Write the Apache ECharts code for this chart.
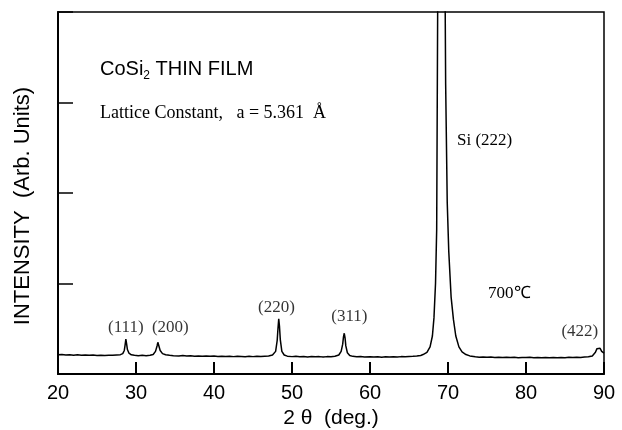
<!DOCTYPE html>
<html>
<head>
<meta charset="utf-8">
<script src="https://cdn.jsdelivr.net/npm/echarts@6/dist/echarts.min.js"></script>
<style>
  html, body { margin: 0; padding: 0; background: #fff; }
  #main { width: 622px; height: 430px; }
</style>
</head>
<body>
<div id="main"></div>
<script>
// XRD scan
var twoTheta = [
  20, 20.5, 21, 21.5, 22, 22.5, 23, 23.5, 24, 24.5, 25, 25.5, 26, 26.5, 27, 27.5, 28, 28.3, 28.5, 28.6, 28.7, 28.8, 28.9, 29.1, 29.4,
  29.8, 30.3, 30.8, 31.3, 31.8, 32.2, 32.5, 32.7, 32.8, 32.9, 33.1, 33.4, 33.8, 34.3, 34.8, 35.5, 36, 36.5, 37, 37.5, 38, 38.5,
  39, 39.5, 40, 40.5, 41, 41.5, 42, 42.5, 43, 43.5, 44, 44.5, 45, 45.5, 46, 46.5, 47, 47.5, 47.9, 48.1, 48.2, 48.3, 48.4, 48.5,
  48.7, 49, 49.4, 50, 50.5, 51, 51.5, 52, 52.5, 53, 53.5, 54, 54.5, 55, 55.5, 56, 56.3, 56.5, 56.6, 56.7, 56.8, 56.9, 57.1, 57.4,
  57.8, 58.3, 58.8, 59.3, 60, 60.5, 61, 61.5, 62, 62.5, 63, 63.5, 64, 64.5, 65, 65.5, 66, 66.5, 66.8, 67.3, 67.7, 68, 68.2, 68.4,
  68.55, 68.7, 68.9, 69.1, 69.3, 69.5, 69.7, 69.9, 70.1, 70.4, 70.7, 71, 71.4, 71.8, 72.3, 72.8, 73.5, 74, 74.5, 75, 75.5, 76,
  76.5, 77, 77.5, 78, 78.5, 79, 79.5, 80, 80.5, 81, 81.5, 82, 82.5, 83, 83.5, 84, 84.5, 85, 85.5, 86, 86.5, 87, 87.5, 88, 88.5,
  88.9, 89.1, 89.3, 89.5, 89.7, 90
];
var intensity = [
  0.212, 0.216, 0.209, 0.214, 0.208, 0.212, 0.206, 0.211, 0.207, 0.209, 0.204, 0.208, 0.205, 0.207, 0.206, 0.21, 0.214, 0.225, 0.26, 0.32, 0.385, 0.33, 0.27, 0.23, 0.212,
  0.207, 0.203, 0.206, 0.202, 0.207, 0.215, 0.25, 0.31, 0.35, 0.32, 0.26, 0.225, 0.212, 0.206, 0.203, 0.2, 0.204, 0.199, 0.202, 0.197, 0.2, 0.196,
  0.199, 0.195, 0.198, 0.194, 0.197, 0.193, 0.196, 0.192, 0.195, 0.194, 0.191, 0.195, 0.192, 0.196, 0.193, 0.197, 0.2, 0.21, 0.25, 0.37, 0.5, 0.61, 0.52, 0.38,
  0.25, 0.21, 0.197, 0.192, 0.195, 0.19, 0.194, 0.189, 0.193, 0.19, 0.192, 0.188, 0.192, 0.19, 0.196, 0.21, 0.25, 0.33, 0.41, 0.45, 0.4, 0.31, 0.235, 0.205,
  0.195, 0.19, 0.193, 0.188, 0.191, 0.187, 0.19, 0.186, 0.19, 0.188, 0.191, 0.189, 0.192, 0.19, 0.193, 0.195, 0.198, 0.205, 0.215, 0.24, 0.3, 0.42, 0.62, 1.0,
  1.6, 4.5, 20, 40, 20, 6, 3.2, 1.9, 1.35, 0.85, 0.6, 0.42, 0.3, 0.245, 0.215, 0.2, 0.19, 0.186, 0.189, 0.184, 0.187, 0.183,
  0.186, 0.182, 0.185, 0.181, 0.184, 0.18, 0.183, 0.181, 0.184, 0.18, 0.183, 0.179, 0.182, 0.18, 0.183, 0.179, 0.182, 0.18, 0.184, 0.181, 0.185, 0.183, 0.187, 0.19, 0.2,
  0.24, 0.28, 0.3, 0.285, 0.25, 0.23
];
var xTicks = [20, 30, 40, 50, 60, 70, 80, 90];

// peak labels: text, and where its centre sits in data units
var peakNames = ['(111)', '(200)', '(220)', '(311)', '(422)'];
var peakPos = [[28.7, 0.51], [34.4, 0.51], [48.0, 0.73], [57.35, 0.63], [86.9, 0.465]];

var data = twoTheta.map(function (t, i) { return [t, intensity[i]]; });
var labelData = peakNames.map(function (n, i) { return { name: n, value: peakPos[i] }; });

var myChart = echarts.init(document.getElementById('main'));
var option = {
  backgroundColor: '#fff',
  animation: false,
  grid: {
    left: 58, right: 18, top: 12, bottom: 56,
    outerBoundsMode: 'none',
    show: true, borderColor: '#000', borderWidth: 1.5
  },
  xAxis: {
    type: 'value', min: 20, max: 90, interval: 10,
    name: '2 θ  (deg.)', nameLocation: 'middle', nameGap: 29,
    nameTextStyle: { fontFamily: 'Liberation Sans', fontSize: 21, color: '#000' },
    axisLine: { lineStyle: { color: '#000', width: 2 } },
    axisTick: { inside: true, length: 12, lineStyle: { color: '#000', width: 2 } },
    axisLabel: {
      fontFamily: 'Liberation Sans', fontSize: 20, color: '#000', margin: 9,
      formatter: function (v) { return xTicks.indexOf(v) >= 0 ? String(v) : ''; }
    },
    splitLine: { show: false }
  },
  yAxis: {
    type: 'value', min: 0, max: 4, interval: 1,
    axisLine: { show: true, lineStyle: { color: '#000', width: 2 } },
    axisTick: { inside: true, length: 15, lineStyle: { color: '#000', width: 1.5 } },
    axisLabel: { show: false },
    splitLine: { show: false }
  },
  graphic: [
    {
      type: 'text', x: 23, y: 206, rotation: Math.PI / 2,
      style: {
        text: 'INTENSITY  (Arb. Units)', align: 'center', verticalAlign: 'middle',
        fontFamily: 'Liberation Sans', fontSize: 22, fill: '#000'
      }
    },
    {
      type: 'text', left: 100, top: 59,
      style: {
        text: '{a|CoSi}{s|2}{a| THIN FILM}',
        rich: {
          a: { fontFamily: 'Liberation Sans', fontSize: 20, fill: '#000' },
          s: { fontFamily: 'Liberation Sans', fontSize: 12, fill: '#000', padding: [14, 0, 0, 0] }
        }
      }
    },
    {
      type: 'text', left: 100, top: 104,
      style: { text: 'Lattice Constant,   a = 5.361  Å', fontFamily: 'Liberation Serif', fontSize: 18, fill: '#000' }
    },
    {
      type: 'text', left: 457, top: 132,
      style: { text: 'Si (222)', fontFamily: 'Liberation Serif', fontSize: 17, fill: '#000' }
    },
    {
      type: 'text', left: 488, top: 285,
      style: { text: '700℃', fontFamily: 'Liberation Serif', fontSize: 17, fill: '#000' }
    }
  ],
  series: [
    {
      type: 'line', data: data, showSymbol: false, clip: true,
      lineStyle: { color: '#000', width: 1.5 }
    },
    {
      type: 'scatter', data: labelData, symbolSize: 0, silent: true,
      label: {
        show: true, position: 'inside', formatter: '{b}',
        fontFamily: 'Liberation Serif', fontSize: 17, color: '#000'
      }
    }
  ]
};
myChart.setOption(option);
</script>
</body>
</html>
